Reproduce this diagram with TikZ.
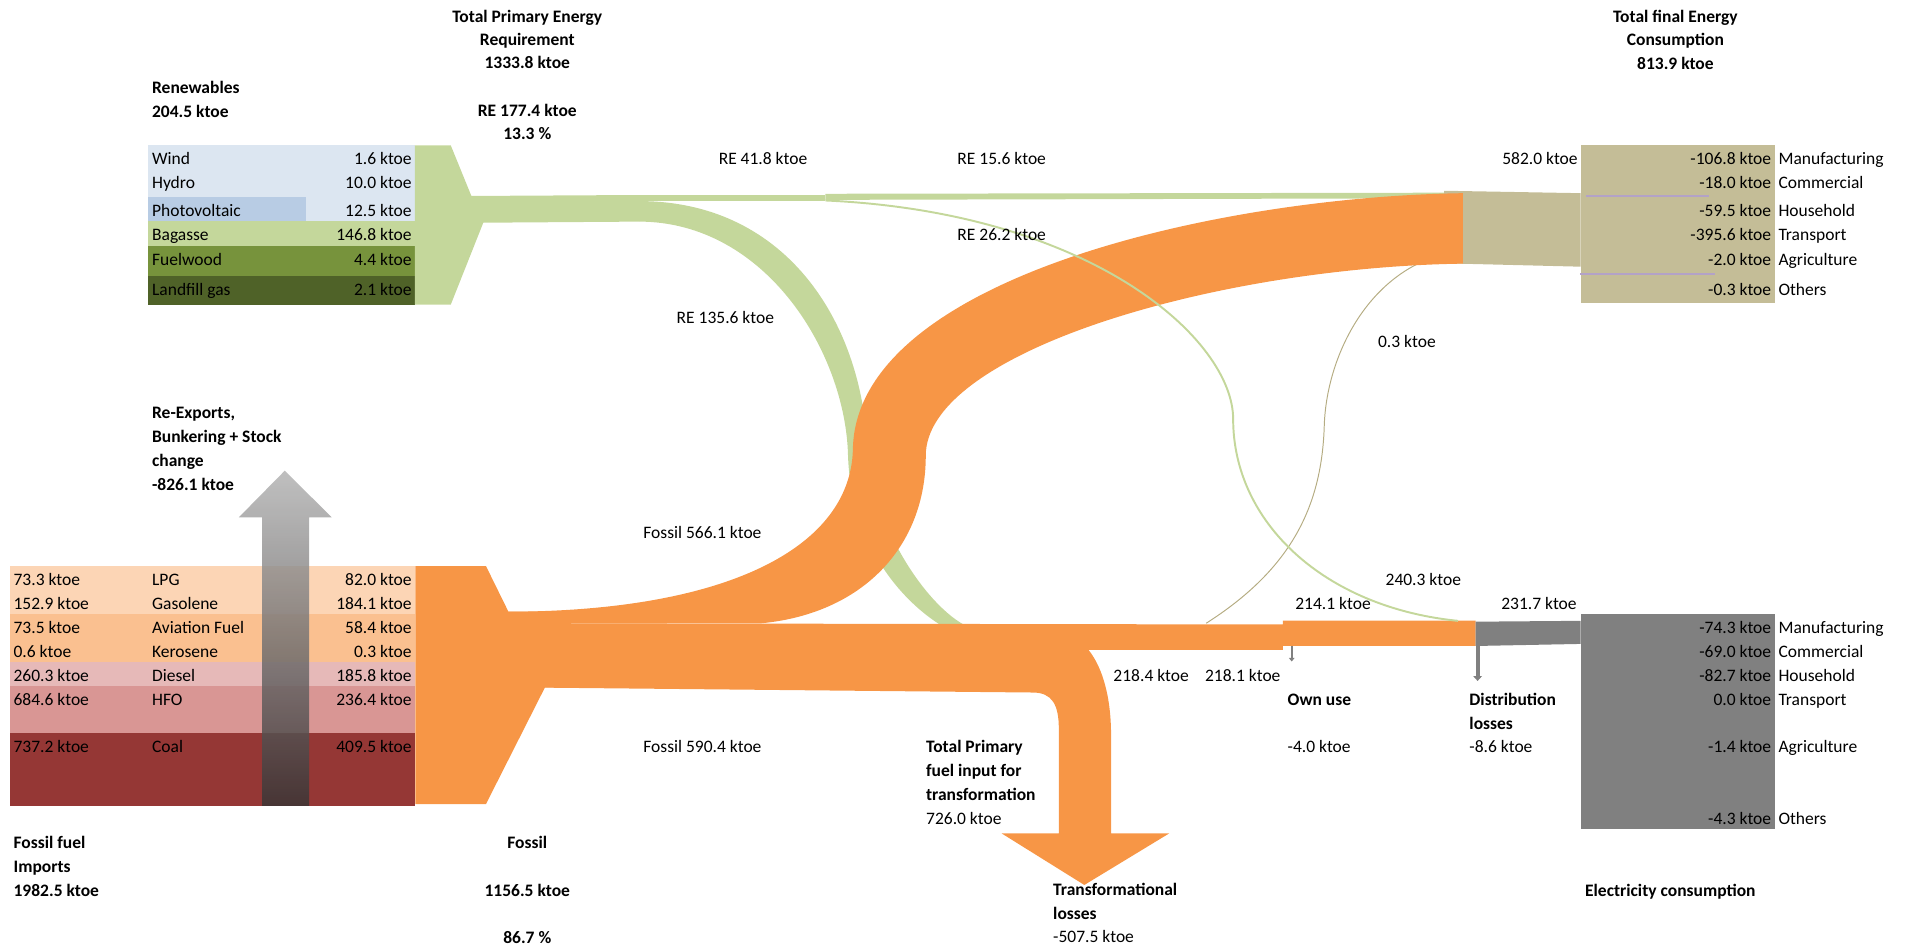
\documentclass[tikz,border=0pt]{standalone}
\usepackage{fontspec}
\setmainfont{Carlito}
\usetikzlibrary{arrows.meta}

\definecolor{reGreen}{HTML}{C4D79B}
\definecolor{fossilOrange}{HTML}{F79646}
\definecolor{finalTan}{HTML}{C4BD97}
\definecolor{elecGray}{HTML}{808080}
\definecolor{lineLilac}{HTML}{B3A2C7}
\definecolor{windBlue}{HTML}{DCE6F1}
\definecolor{pvBlue}{HTML}{B8CCE4}
\definecolor{woodGreen}{HTML}{77933C}
\definecolor{gasGreen}{HTML}{4F6228}
\definecolor{lpgPeach}{HTML}{FCD5B5}
\definecolor{jetPeach}{HTML}{FAC090}
\definecolor{dieselRose}{HTML}{E6B9B8}
\definecolor{hfoRose}{HTML}{D99694}
\definecolor{coalRed}{HTML}{953735}
\definecolor{thinTan}{HTML}{B5AC82}
\definecolor{arrowTop}{HTML}{B4B4B4}
\definecolor{arrowBot}{HTML}{3A3535}

\begin{document}
\begin{tikzpicture}[x=1pt, y=-1pt,
		every node/.style={font=\fontsize{14.4}{17}\selectfont},
		txt/.style={inner sep=0pt, text height=9.6pt, text depth=0pt},
		lbl/.style={txt, anchor=west},
		val/.style={txt, anchor=east},
		mid/.style={txt, anchor=center}]
		\useasboundingbox (0,0) rectangle (1568,780);
		
		% Renewables table
		\fill[windBlue] (122,119.6) rectangle (341.5,182.2);
		\fill[pvBlue] (122,162) rectangle (251.8,182.2);
		\fill[reGreen] (122,182.2) rectangle (341.5,202.5);
		\fill[woodGreen] (122,202.5) rectangle (341.5,227);
		\fill[gasGreen] (122,227) rectangle (341.5,250.8);
		
		% Fossil table
		\fill[lpgPeach] (8.1,465.9) rectangle (341.9,505.4);
		\fill[jetPeach] (8.1,505.4) rectangle (341.9,544.9);
		\fill[dieselRose] (8.1,544.9) rectangle (341.9,564.7);
		\fill[hfoRose] (8.1,564.7) rectangle (341.9,603);
		\fill[coalRed] (8.1,603) rectangle (341.9,663.4);
		
		% Renewable flows
		\fill[reGreen] (341.5,119.6) -- (371,119.6) -- (388,161.3) -- (526,160.5) -- (526,182.4) -- (397.8,183.3) -- (371,250.8) -- (341.5,250.8) -- cycle;
		\fill[reGreen] (526,160.5) rectangle (679.4,165.5);
		\fill[reGreen] (679.4,159.5) -- (1188.7,158.6) -- (1188.7,163.2) -- (679.4,164.5) -- cycle;
		\fill[reGreen] (526,165.5) .. controls (650,165.5) and (712,270) .. (714,375) .. controls (722,440) and (765,500) .. (795,515) -- (775,515) .. controls (735,490) and (700,440) .. (698,375) .. controls (696,290) and (630,182.4) .. (526,182.4) -- cycle;
		
		% Final consumption box
		\fill[finalTan] (1188.7,157) -- (1301,159) -- (1301,219.5) -- (1188.7,216.7) -- cycle;
		\fill[finalTan] (1301,119.6) rectangle (1460.6,249.7);
		\draw[lineLilac, line width=1.5pt] (1305.5,161.3) -- (1407,161.3);
		\draw[lineLilac, line width=1.5pt] (1300.4,225.5) -- (1412,225.5);
		\draw[thinTan, line width=0.8pt] (992.8,513) .. controls (1060,470) and (1088,420) .. (1090,350) .. controls (1092,290) and (1130,215) .. (1204,206);
		
		% Fossil flows
		\fill[fossilOrange] (341.9,465.9) -- (400,465.9) -- (418.5,503.5) -- (470,503.5) -- (470,566) -- (448.6,565.7) -- (400,661.8) -- (341.9,661.8) -- cycle;
		\fill[fossilOrange] (418.5,503.5) .. controls (600,503) and (700,450) .. (702,370) .. controls (704,230) and (1000,162) .. (1204,159) -- (1204,217) .. controls (1000,220) and (762,290) .. (762,375) .. controls (762,450) and (710,505) .. (626.8,513) -- (430,513) -- cycle;
		\fill[fossilOrange] (430,513) -- (1056,514) -- (1056,510.8) -- (1214.5,510.8) -- (1214.5,531.7) -- (1056,531.7) -- (1056,535) -- (896,535) .. controls (908,550) and (914.5,575) .. (914.5,605) -- (914.5,686) -- (962.3,686) -- (892.5,728.4) -- (824.5,686) -- (871.5,686) -- (871.5,600) .. controls (871.5,580) and (866,570) .. (850,570) -- (448.6,566) -- cycle;
		\draw[reGreen, line width=1.6pt] (679.4,165) .. controls (900,175) and (1015,280) .. (1015,345) .. controls (1015,430) and (1090,500) .. (1200,511);
		
		% Electricity
		\fill[elecGray] (1214.5,511.7) -- (1301,511) -- (1301,530) -- (1214.5,531.7) -- cycle;
		\fill[elecGray] (1301,505.3) rectangle (1460.6,682.6);
		\draw[elecGray, line width=1.5pt, -{Triangle[width=4.5pt,length=3pt]}] (1063.2,531.7) -- (1063.2,544.5);
		\draw[elecGray, line width=3.4pt, -{Triangle[width=7pt,length=4pt]}] (1216.2,531.5) -- (1216.2,560.5);
		
		% Re-export arrow
		\shade[top color=arrowTop, bottom color=arrowBot, fill opacity=0.85] (215.7,663.4) -- (215.7,425.8) -- (196.6,425.8) -- (234.4,387.4) -- (273,425.8) -- (254.4,425.8) -- (254.4,663.4) -- cycle;
		
		% Headings
		\node[mid] (tper1) at (434,13.5) {\textbf{Total Primary Energy}};
		\node[mid] (tper2) at (434,32.5) {\textbf{Requirement}};
		\node[mid] (tper3) at (434,51.5) {\textbf{1333.8 ktoe}};
		\node[mid] (reShare1) at (434,91) {\textbf{RE 177.4 ktoe}};
		\node[mid] (reShare2) at (434,110) {\textbf{13.3 \%}};
		\node[lbl] (renew1) at (125,72) {\textbf{Renewables}};
		\node[lbl] (renew2) at (125,92) {\textbf{204.5 ktoe}};
		\node[mid] (tfec1) at (1379,13.5) {\textbf{Total final Energy}};
		\node[mid] (tfec2) at (1379,32.5) {\textbf{Consumption}};
		\node[mid] (tfec3) at (1379,52) {\textbf{813.9 ktoe}};
		\node[lbl] (rex1) at (125,339.7) {\textbf{Re-Exports,}};
		\node[lbl] (rex2) at (125,359.4) {\textbf{Bunkering + Stock}};
		\node[lbl] (rex3) at (125,379.2) {\textbf{change}};
		\node[lbl] (rex4) at (125,399) {\textbf{-826.1 ktoe}};
		\node[lbl] (imp1) at (11,693.6) {\textbf{Fossil fuel}};
		\node[lbl] (imp2) at (11,713.3) {\textbf{Imports}};
		\node[lbl] (imp3) at (11,733.1) {\textbf{1982.5 ktoe}};
		\node[mid] (fos1) at (434,693.6) {\textbf{Fossil}};
		\node[mid] (fos2) at (434,733.1) {\textbf{1156.5 ktoe}};
		\node[mid] (fos3) at (434,771.5) {\textbf{86.7 \%}};
		\node[lbl] (tpfi1) at (762.1,614.5) {\textbf{Total Primary}};
		\node[lbl] (tpfi2) at (762.1,634.3) {\textbf{fuel input for}};
		\node[lbl] (tpfi3) at (762.1,654) {\textbf{transformation}};
		\node[lbl] (tpfi4) at (762.1,673.5) {726.0 ktoe};
		\node[lbl] (tloss1) at (866.7,732.5) {\textbf{Transformational}};
		\node[lbl] (tloss2) at (866.7,751.7) {\textbf{losses}};
		\node[lbl] (tloss3) at (866.7,770.9) {-507.5 ktoe};
		\node[lbl] (own1) at (1059.7,575.6) {\textbf{Own use}};
		\node[lbl] (own2) at (1059.7,614.5) {-4.0 ktoe};
		\node[lbl] (dist1) at (1209.3,575.6) {\textbf{Distribution}};
		\node[lbl] (dist2) at (1209.3,595.3) {\textbf{losses}};
		\node[lbl] (dist3) at (1209.3,614.5) {-8.6 ktoe};
		\node[lbl] (elec) at (1304.5,733) {\textbf{Electricity consumption}};
		
		% Flow labels
		\node[mid] (re418) at (628,130.3) {RE 41.8 ktoe};
		\node[mid] (re156) at (824.5,130.3) {RE 15.6 ktoe};
		\node[mid] (re262) at (824.5,193) {RE 26.2 ktoe};
		\node[mid] (re1356) at (597,261.5) {RE 135.6 ktoe};
		\node[mid] (oth03) at (1158,281) {0.3 ktoe};
		\node[val] (fin5820) at (1298.7,130.3) {582.0 ktoe};
		\node[lbl] (fos5661) at (529.4,438.3) {Fossil 566.1 ktoe};
		\node[lbl] (fos5904) at (529.4,614.5) {Fossil 590.4 ktoe};
		\node[mid] (el2403) at (1171.5,477.2) {240.3 ktoe};
		\node[mid] (el2141) at (1097.2,496.6) {214.1 ktoe};
		\node[mid] (el2317) at (1266.7,496.6) {231.7 ktoe};
		\node[mid] (el2184) at (947.5,556) {218.4 ktoe};
		\node[mid] (el2181) at (1022.9,556) {218.1 ktoe};
		
		% Table entries
		\foreach \lbl/\val/\y [count=\i] in {Wind/1.6/130.3, Hydro/10.0/150.3, Photovoltaic/12.5/173.4, Bagasse/146.8/193.4, Fuelwood/4.4/213.7, Landfill gas/2.1/238.1} {
			\node[lbl] (ren\i) at (125,\y) {\lbl};
			\node[val] (renv\i) at (339,\y) {\val\ ktoe};
		}
		\foreach \imp/\lbl/\val/\y [count=\i] in {73.3/LPG/82.0/476.9, 152.9/Gasolene/184.1/496.6, 73.5/Aviation Fuel/58.4/516.6, 0.6/Kerosene/0.3/536.4, 260.3/Diesel/185.8/556.2, 684.6/HFO/236.4/575.6, 737.2/Coal/409.5/614.6} {
			\node[lbl] (fimp\i) at (11,\y) {\imp\ ktoe};
			\node[lbl] (fuel\i) at (125,\y) {\lbl};
			\node[val] (fval\i) at (339,\y) {\val\ ktoe};
		}
		\foreach \val/\lbl/\y [count=\i] in {-106.8/Manufacturing/130.3, -18.0/Commercial/150.3, -59.5/Household/173.4, -395.6/Transport/193.4, -2.0/Agriculture/213.7, -0.3/Others/238.1} {
			\node[val] (tfv\i) at (1458,\y) {\val\ ktoe};
			\node[lbl] (tfs\i) at (1463.7,\y) {\lbl};
		}
		\foreach \val/\lbl/\y [count=\i] in {-74.3/Manufacturing/516.6, -69.0/Commercial/536.3, -82.7/Household/556.1, 0.0/Transport/575.6, -1.4/Agriculture/614.5, -4.3/Others/673.5} {
			\node[val] (elv\i) at (1458,\y) {\val\ ktoe};
			\node[lbl] (els\i) at (1463.7,\y) {\lbl};
		}
	\end{tikzpicture}
\end{document}
